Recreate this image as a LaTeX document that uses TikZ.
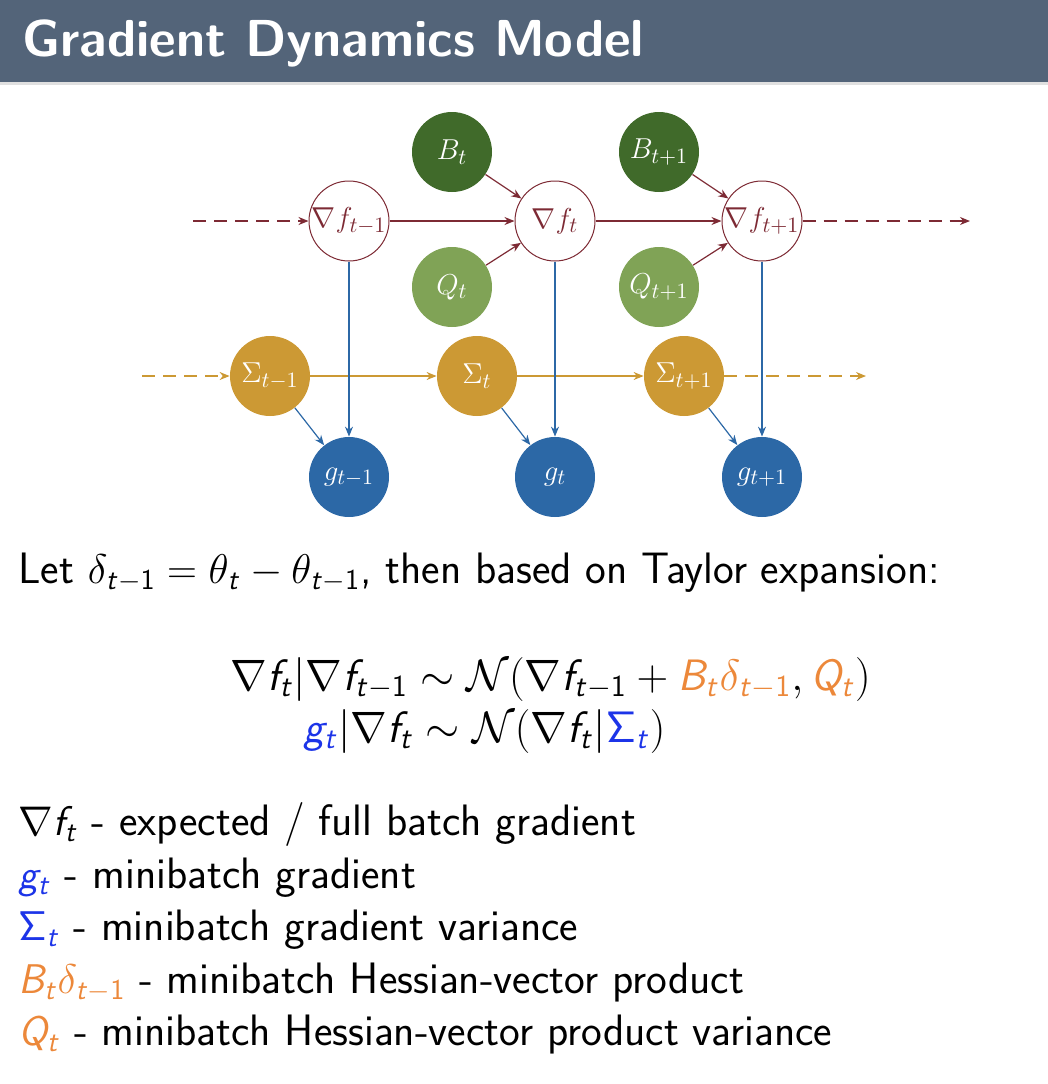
\documentclass[tikz,border=0pt]{standalone}
\usepackage{amsmath}
\usepackage{graphicx}
\usepackage{tikz}
\usetikzlibrary{arrows.meta,positioning}
\definecolor{barcol}{RGB}{83,100,121}
\definecolor{gradred}{RGB}{125,42,52}
\definecolor{bdark}{RGB}{64,106,42}
\definecolor{qlight}{RGB}{128,163,86}
\definecolor{sgold}{RGB}{204,153,52}
\definecolor{gblue}{RGB}{44,104,166}
\definecolor{eqorange}{RGB}{236,136,58}
\definecolor{eqblue}{RGB}{28,52,232}
\DeclareMathAlphabet{\mathsfit}{OT1}{cmss}{m}{sl}
\newcommand{\sT}{\mathsfit{t}}
\newcommand{\sTm}{\mathsfit{t}-\mathsf{1}}
\newcommand{\gradf}[1]{\nabla\mathsfit{f}_{#1}}

\begin{document}
\begin{tikzpicture}[x=0.5pt,y=-0.5pt,
  rv/.style={circle,minimum size=40pt,inner sep=0pt,font=\fontsize{15.5}{17}\selectfont},
  gradnode/.style={rv,draw=gradred,line width=0.5pt,fill=white,text=gradred},
  bnode/.style={rv,fill=bdark,text=white},
  qnode/.style={rv,fill=qlight,text=white},
  signode/.style={rv,fill=sgold,text=white},
  gnode/.style={rv,fill=gblue,text=white},
  arr/.style={-{Stealth[length=5pt,width=4pt]},line width=0.6pt},
  dsh/.style={arr,dash pattern=on 6.5pt off 4pt},
  txt/.style={anchor=base west,inner sep=0pt,font=\fontsize{22}{26}\sffamily}]
\useasboundingbox (0,0) rectangle (1048,1084);
% title bar
\fill[barcol] (0,0) rectangle (1048,82);
\fill[black!12] (0,82) rectangle (1048,85);
\node[anchor=base west,inner sep=0pt,text=white,font=\fontsize{26}{30}\sffamily\bfseries] (title) at (22,56) {Gradient Dynamics Model};
% gradient chain
\node[gradnode] (f0) at (349,221) {$\nabla f_{t-1}$};
\node[gradnode] (f1) at (555,221) {$\nabla f_{t}$};
\node[gradnode] (f2) at (762,221) {$\nabla f_{t+1}$};
\node[bnode] (b1) at (452,152) {$B_{t}$};
\node[bnode] (b2) at (659,152) {$B_{t+1}$};
\node[qnode] (q1) at (452,287) {$Q_{t}$};
\node[qnode] (q2) at (659,287) {$Q_{t+1}$};
\node[signode] (s0) at (270,376) {$\Sigma_{t-1}$};
\node[signode] (s1) at (477,376) {$\Sigma_{t}$};
\node[signode] (s2) at (684,376) {$\Sigma_{t+1}$};
\node[gnode] (g0) at (349,477) {$g_{t-1}$};
\node[gnode] (g1) at (555,477) {$g_{t}$};
\node[gnode] (g2) at (762,477) {$g_{t+1}$};
\coordinate (fin) at (193,221);
\coordinate (fout) at (970,221);
\coordinate (sin) at (142,376);
\coordinate (sout) at (866,376);
\draw[dsh,gradred] (fin)--(f0);\draw[arr,gradred] (f0)--(f1);\draw[arr,gradred] (f1)--(f2);\draw[dsh,gradred] (f2)--(fout);
\draw[arr,gradred] (b1)--(f1);\draw[arr,gradred] (q1)--(f1);\draw[arr,gradred] (b2)--(f2);\draw[arr,gradred] (q2)--(f2);
\draw[dsh,sgold] (sin)--(s0);\draw[arr,sgold] (s0)--(s1);\draw[arr,sgold] (s1)--(s2);\draw[dsh,sgold] (s2)--(sout);
\draw[arr,gblue] (f0)--(g0);\draw[arr,gblue] (f1)--(g1);\draw[arr,gblue] (f2)--(g2);
\draw[arr,gblue] (s0)--(g0);\draw[arr,gblue] (s1)--(g1);\draw[arr,gblue] (s2)--(g2);
% text below
\node[txt] (intro) at (18,583) {Let $\delta_{\sT-\mathsf{1}}=\theta_{\sT}-\theta_{\sTm}$, then based on Taylor expansion:};
\node[txt] (eqa) at (230,690) {\scalebox{1.06}{$\gradf{\sT}|\gradf{\sTm}\sim\mathcal{N}(\gradf{\sTm}+{\color{eqorange}\mathsfit{B}_{\sT}\delta_{\sTm}},{\color{eqorange}\mathsfit{Q}_{\sT}})$}};
\node[txt] (eqb) at (303,742) {\scalebox{1.06}{${\color{eqblue}\mathsfit{g}_{\sT}}|\gradf{\sT}\sim\mathcal{N}(\gradf{\sT}|{\color{eqblue}\mathsf{\Sigma}_{\sT}})$}};
\node[txt] (l1) at (18,835) {$\gradf{\sT}$ - expected / full batch gradient};
\node[txt] (l2) at (18,888) {${\color{eqblue}\mathsfit{g}_{\sT}}$ - minibatch gradient};
\node[txt] (l3) at (18,940) {${\color{eqblue}\mathsf{\Sigma}_{\sT}}$ - minibatch gradient variance};
\node[txt] (l4) at (18,993) {${\color{eqorange}\mathsfit{B}_{\sT}\delta_{\sTm}}$ - minibatch Hessian-vector product};
\node[txt] (l5) at (18,1045) {${\color{eqorange}\mathsfit{Q}_{\sT}}$ - minibatch Hessian-vector product variance};
\end{tikzpicture}
\end{document}
